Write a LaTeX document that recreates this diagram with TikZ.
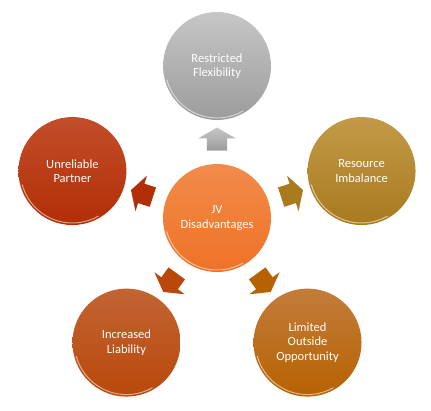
\documentclass[tikz,border=0pt]{standalone}
\usepackage{fontspec}
\setmainfont{Carlito}
\usetikzlibrary{shapes.arrows,calc}
\definecolor{hubtop}{HTML}{F28B4A}
\definecolor{hubbot}{HTML}{EE7226}
\definecolor{flextop}{HTML}{C6C6C6}
\definecolor{flexbot}{HTML}{9C9C9C}
\definecolor{restop}{HTML}{C29A48}
\definecolor{resbot}{HTML}{A97A1E}
\definecolor{opptop}{HTML}{C27C3A}
\definecolor{oppbot}{HTML}{B76202}
\definecolor{liatop}{HTML}{C26434}
\definecolor{liabot}{HTML}{B9480A}
\definecolor{partop}{HTML}{C24E2A}
\definecolor{parbot}{HTML}{B22E06}

\tikzset{
  disc/.style={circle,minimum size=108pt,inner sep=0pt,align=center,
    text=white,font=\fontsize{12.5}{14.5}\selectfont},
  blockarrow/.style={single arrow,minimum height=23pt,inner xsep=0pt,inner ysep=10pt,
    single arrow head extend=8.5pt,single arrow tip angle=120},
  rim/.style={white,opacity=0.55,line width=1pt}
}

\begin{document}
\begin{tikzpicture}
\useasboundingbox (-217pt,-192pt) rectangle (214pt,218pt);
\node[disc,top color=hubtop,bottom color=hubbot] (hub) at (0,0) {JV\\Disadvantages};
\node[disc,top color=flextop,bottom color=flexbot] (flex) at (90:152pt) {Restricted\\Flexibility};
\node[disc,top color=restop,bottom color=resbot] (res) at (18:152pt) {Resource\\Imbalance};
\node[disc,top color=opptop,bottom color=oppbot] (opp) at (-54:154pt) {Limited\\Outside\\Opportunity};
\node[disc,top color=liatop,bottom color=liabot] (lia) at (234:154pt) {Increased\\Liability};
\node[disc,top color=partop,bottom color=parbot] (par) at (162:152pt) {Unreliable\\Partner};

\node[blockarrow,rotate=90,top color=flextop,bottom color=flexbot] (toflex) at ($(hub)!0.5!(flex)$) {};
\node[blockarrow,rotate=18,fill=resbot] (tores) at ($(hub)!0.5!(res)$) {};
\node[blockarrow,rotate=-54,fill=oppbot] (toopp) at ($(hub)!0.5!(opp)$) {};
\node[blockarrow,rotate=234,fill=liabot] (tolia) at ($(hub)!0.5!(lia)$) {};
\node[blockarrow,rotate=162,fill=parbot] (topar) at ($(hub)!0.5!(par)$) {};

\draw[rim] (hub) ++(195:52pt) arc[start angle=195,end angle=300,radius=52pt];
\draw[rim] (flex) ++(195:52pt) arc[start angle=195,end angle=300,radius=52pt];
\draw[rim] (res) ++(195:52pt) arc[start angle=195,end angle=300,radius=52pt];
\draw[rim] (opp) ++(195:52pt) arc[start angle=195,end angle=300,radius=52pt];
\draw[rim] (lia) ++(195:52pt) arc[start angle=195,end angle=300,radius=52pt];
\draw[rim] (par) ++(195:52pt) arc[start angle=195,end angle=300,radius=52pt];
\end{tikzpicture}
\end{document}
